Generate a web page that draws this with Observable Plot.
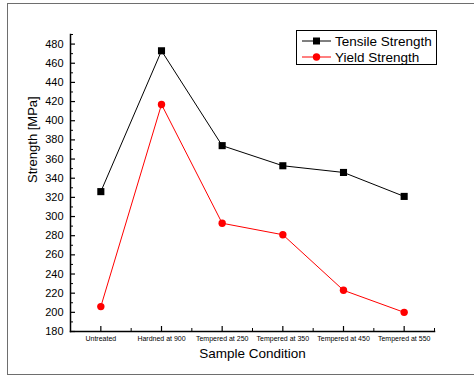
<!DOCTYPE html>
<html>
<head>
<meta charset="utf-8">
<script src="https://cdn.jsdelivr.net/npm/d3@7"></script>
<script src="https://cdn.jsdelivr.net/npm/@observablehq/plot@0.6"></script>
<style>
  html, body { margin: 0; padding: 0; background: #fff; }
  body { width: 474px; height: 377px; position: relative; overflow: hidden; font-family: "Liberation Sans", Arial, sans-serif; }
  #frame { position: absolute; left: 7px; top: 3px; width: 480px; height: 372px; border: 1.5px solid #6e6e6e; box-sizing: border-box; }
  #chart { position: absolute; left: 0; top: 0; }
  #legend { position: absolute; left: 296px; top: 30px; width: 141px; height: 35px; border: 1px solid #000; box-sizing: border-box; background: #fff; font-size: 13.5px; color: #000; }
  #legend .row { position: absolute; left: 0; height: 16px; display: flex; align-items: center; }
  #legend svg { margin-left: 5px; margin-right: 4px; }
</style>
</head>
<body>
<div id="frame"></div>
<div id="chart"></div>
<div id="legend"></div>
<script>
const categories = ["Untreated", "Hardned at 900", "Tempered at 250", "Tempered at 350", "Tempered at 450", "Tempered at 550"];
const tensileStrength = [326, 473, 374, 353, 346, 321];
const yieldStrength = [206, 417, 293, 281, 223, 200];
const seriesNames = ["Tensile Strength", "Yield Strength"];
const yMajorTicks = d3.range(180, 481, 20);
const yMinorTicks = d3.range(190, 491, 20);
const xMajorTicks = d3.range(0, categories.length);
const xMinorTicks = d3.range(-0.5, categories.length, 1);

const tensileData = categories.map((c, i) => ({i, c, v: tensileStrength[i]}));
const yieldData = categories.map((c, i) => ({i, c, v: yieldStrength[i]}));

const plot = Plot.plot({
  width: 474,
  height: 377,
  marginLeft: 70,
  marginRight: 40,
  marginTop: 34,
  marginBottom: 46,
  style: {fontFamily: "Liberation Sans, Arial, sans-serif", color: "#000", background: "transparent"},
  x: {type: "linear", domain: [-0.5, categories.length - 0.5]},
  y: {domain: [180, 490]},
  marks: [
    Plot.frame({anchor: "left", stroke: "#000", strokeWidth: 1.5}),
    Plot.frame({anchor: "bottom", stroke: "#000", strokeWidth: 1.5}),
    Plot.axisY({ticks: yMajorTicks, tickSize: 0, tickPadding: 7, fontSize: 11, label: null}),
    Plot.axisY({ticks: yMajorTicks, tickSize: -5, tickFormat: () => "", label: null, strokeWidth: 1.2}),
    Plot.axisY({ticks: yMinorTicks, tickSize: -3, tickFormat: () => "", label: null}),
    Plot.axisX({ticks: xMajorTicks, tickSize: 0, tickPadding: 5, fontSize: 7, tickFormat: i => categories[i], label: null}),
    Plot.axisX({ticks: xMajorTicks, tickSize: -5, tickFormat: () => "", label: null, strokeWidth: 1.2}),
    Plot.axisX({ticks: xMinorTicks, tickSize: -3, tickFormat: () => "", label: null}),
    Plot.text(["Sample Condition"], {frameAnchor: "bottom", dy: 26, fontSize: 13.5, text: d => d}),
    Plot.text(["Strength [MPa]"], {frameAnchor: "left", dx: -38, rotate: -90, fontSize: 13, text: d => d}),
    Plot.line(tensileData, {x: "i", y: "v", stroke: "#000", strokeWidth: 1}),
    Plot.dot(tensileData, {x: "i", y: "v", symbol: "square", r: 4, fill: "#000", stroke: "none"}),
    Plot.line(yieldData, {x: "i", y: "v", stroke: "#ff0000", strokeWidth: 1}),
    Plot.dot(yieldData, {x: "i", y: "v", symbol: "circle", r: 3.7, fill: "#ff0000", stroke: "none"})
  ]
});
document.getElementById("chart").appendChild(plot);

// legend
const legend = document.getElementById("legend");
const styles = [{color: "#000", symbol: "square"}, {color: "#ff0000", symbol: "circle"}];
seriesNames.forEach((name, k) => {
  const row = document.createElement("div");
  row.className = "row";
  row.style.top = (2 + k * 16) + "px";
  const s = styles[k];
  const marker = s.symbol === "square"
    ? `<rect x="11" y="4.5" width="7" height="7" fill="${s.color}"/>`
    : `<circle cx="14.5" cy="8" r="3.7" fill="${s.color}"/>`;
  row.innerHTML = `<svg width="29" height="16"><line x1="0" x2="29" y1="8" y2="8" stroke="${s.color}" stroke-width="1"/>${marker}</svg><span>${name}</span>`;
  legend.appendChild(row);
});
</script>
</body>
</html>
